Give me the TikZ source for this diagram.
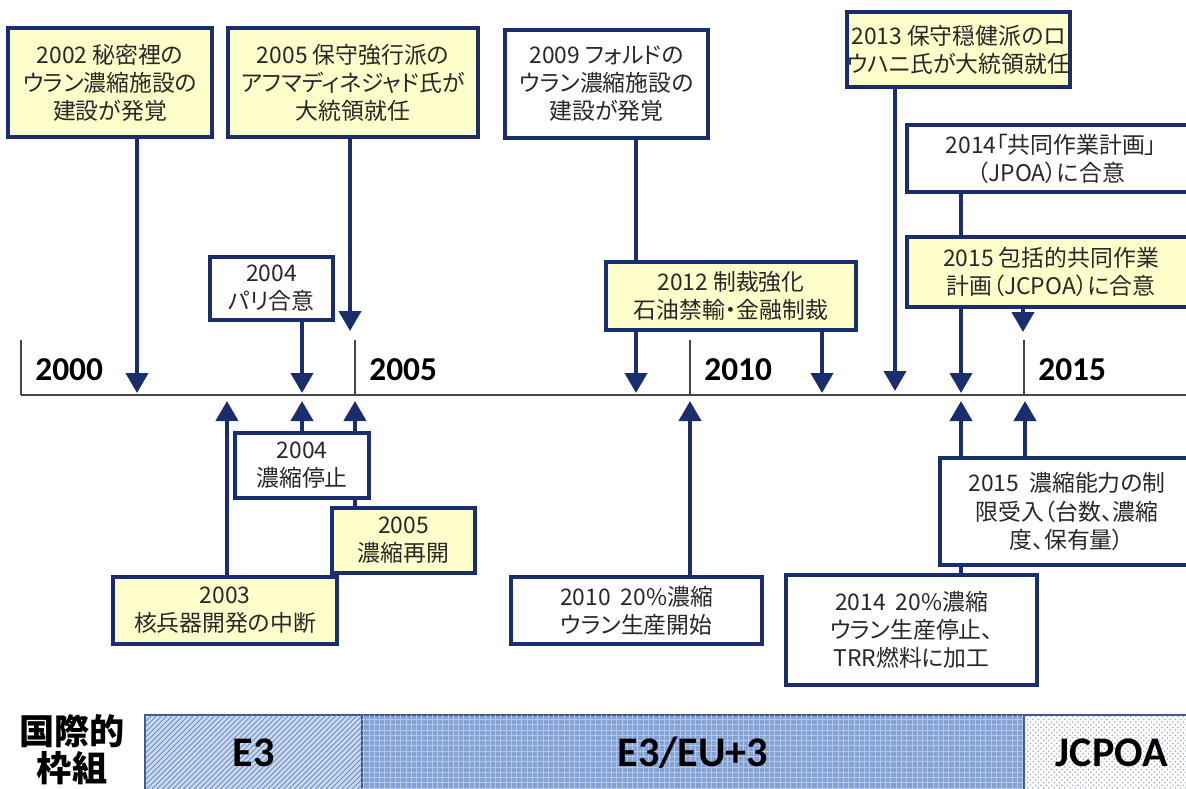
\documentclass[tikz,border=0pt]{standalone}
\usepackage{fontspec}
\setmainfont{Noto Sans CJK JP}[RawFeature=+palt]
\newfontfamily\latinbold{Carlito}
\usetikzlibrary{arrows.meta,patterns,backgrounds}

\definecolor{LineColor}{RGB}{26,46,110}
\definecolor{EventYellow}{RGB}{255,255,204}
\definecolor{TextColor}{RGB}{40,40,40}
\definecolor{AxisColor}{RGB}{70,70,70}
\definecolor{E3Color}{RGB}{200,216,240}
\definecolor{E3Hatch}{RGB}{100,130,182}
\definecolor{EUColor}{RGB}{132,162,212}
\definecolor{EUGrid}{RGB}{178,200,236}
\definecolor{JcpoaDots}{RGB}{160,172,198}
\definecolor{BarEdge}{RGB}{60,90,140}

\tikzset{
	evbox/.style={draw=LineColor, line width=2.3pt, fill=white, align=center, inner sep=0pt, text=TextColor, font=\fontsize{13}{16}\selectfont},
	evyellow/.style={evbox, fill=EventYellow},
	evarrow/.style={draw=LineColor, line width=2.3pt, -{Triangle[length=0.4cm, width=0.44cm]}},
	yearlabel/.style={anchor=base west, inner sep=0pt, font=\latinbold\bfseries\fontsize{19}{19}\selectfont},
	bartext/.style={font=\latinbold\bfseries\fontsize{24}{24}\selectfont},
}

\begin{document}
\begin{tikzpicture}[x=0.02cm, y=-0.02cm]
	\useasboundingbox (0,0) rectangle (1186,788);
	\clip (0,0) rectangle (1186,788);

	\node[evyellow, minimum width=4.08cm, minimum height=2.18cm] (b2002) at (110,82.5) {2002 秘密裡の\\ウラン濃縮施設の\\建設が発覚};
	\node[evyellow, minimum width=5cm, minimum height=2.18cm] (b2005p) at (353,82.5) {2005 保守強行派の\\アフマディネジャド氏が\\大統領就任};
	\node[evbox, minimum width=4.06cm, minimum height=2.16cm] (b2009) at (606.5,84) {2009 フォルドの\\ウラン濃縮施設の\\建設が発覚};
	\node[evyellow, minimum width=3.74cm, minimum height=1.5cm] (b2013) at (958.5,49.5) {2013 保守穏健派のロ\\ウハニ氏が大統領就任};
	\node[evbox, minimum width=5.76cm, minimum height=1.34cm] (b2014j) at (1051,158.5) {2014「共同作業計画」\\（JPOA）に合意};
	\node[evyellow, minimum width=5.76cm, minimum height=1.4cm] (b2015j) at (1051,272) {2015 包括的共同作業\\計画（JCPOA）に合意};
	\node[evyellow, minimum width=5cm, minimum height=1.36cm] (b2012) at (731,296) {2012 制裁強化\\石油禁輸・金融制裁};
	\node[evbox, minimum width=2.46cm, minimum height=1.26cm] (b2004p) at (271.5,288.5) {2004\\パリ合意};

	\node[evbox, minimum width=2.68cm, minimum height=1.3cm] (b2004s) at (302,465.5) {2004\\濃縮停止};
	\node[evyellow, minimum width=2.86cm, minimum height=1.3cm] (b2005r) at (403.5,540.5) {2005\\濃縮再開};
	\node[evyellow, minimum width=4.48cm, minimum height=1.34cm] (b2003) at (225,610.5) {2003\\核兵器開発の中断};
	\node[evbox, minimum width=5.02cm, minimum height=1.34cm] (b2010) at (636.5,610.5) {2010~ 20\%濃縮\\ウラン生産開始};
	\node[evbox, minimum width=5.02cm, minimum height=2.2cm] (b2014u) at (911.5,630) {2014~ 20\%濃縮\\ウラン生産停止、\\TRR燃料に加工};
	\node[evbox, minimum width=5.08cm, minimum height=2.14cm] (b2015c) at (1067,511.5) {2015~ 濃縮能力の制\\限受入（台数、濃縮\\度、保有量）};

	\coordinate (d2002) at (137,393);
	\coordinate (d2004p) at (302,393);
	\coordinate (d2005p) at (350,331);
	\coordinate (d2009) at (636,393);
	\coordinate (d2012) at (822,393);
	\coordinate (d2013) at (895,391);
	\coordinate (d2014j) at (961,393);
	\coordinate (d2015j) at (1023,332);
	\coordinate (u2003) at (227,401);
	\coordinate (u2004s) at (302,401);
	\coordinate (u2005r) at (355,401);
	\coordinate (u2010) at (690,401);
	\coordinate (u2014u) at (961,401);
	\coordinate (u2015c) at (1025,401);

	\begin{scope}[on background layer]
		\draw[AxisColor, line width=1pt] (21,395) -- (1186,395);
		\foreach \yr/\xx in {2000/21,2005/355,2010/690,2015/1024} {
			\draw[AxisColor, line width=1pt] (\xx,340) -- (\xx,395);
			\node[yearlabel] (y\yr) at (\xx+14,380) {\yr};
		}
		\draw[evarrow] (b2002.south -| d2002) -- (d2002);
		\draw[evarrow] (b2004p.south -| d2004p) -- (d2004p);
		\draw[evarrow] (b2005p.south -| d2005p) -- (d2005p);
		\draw[evarrow] (b2009.south -| d2009) -- (d2009);
		\draw[evarrow] (b2012.south -| d2012) -- (d2012);
		\draw[evarrow] (b2013.south -| d2013) -- (d2013);
		\draw[evarrow] (b2014j.south -| d2014j) -- (d2014j);
		\draw[evarrow] (b2015j.south -| d2015j) -- (d2015j);
		\draw[evarrow] (b2003.north -| u2003) -- (u2003);
		\draw[evarrow] (b2004s.north -| u2004s) -- (u2004s);
		\draw[evarrow] (b2005r.north -| u2005r) -- (u2005r);
		\draw[evarrow] (b2010.north -| u2010) -- (u2010);
		\draw[evarrow] (b2014u.north -| u2014u) -- (u2014u);
		\draw[evarrow] (b2015c.north -| u2015c) -- (u2015c);
	\end{scope}

	\node[font=\bfseries\fontsize{20}{21}\selectfont, align=center, inner sep=0pt] (frame) at (72,750) {国際的\\枠組};
	\filldraw [draw=BarEdge, line width=1pt, fill=E3Color, postaction={pattern=north east lines, pattern color=E3Hatch}] (145,715) rectangle node [bartext] (e3) {E3} (362,790);
	\filldraw [draw=BarEdge, line width=1pt, fill=EUColor, postaction={pattern=grid, pattern color=EUGrid}] (362,715) rectangle node [bartext] (eu3) {E3/EU+3} (1024,790);
	\filldraw [draw=BarEdge, line width=1pt, fill=white, postaction={pattern=crosshatch dots, pattern color=JcpoaDots}] (1024,715) rectangle node [bartext] (jcpoa) {JCPOA} (1200,790);
\end{tikzpicture}
\end{document}
